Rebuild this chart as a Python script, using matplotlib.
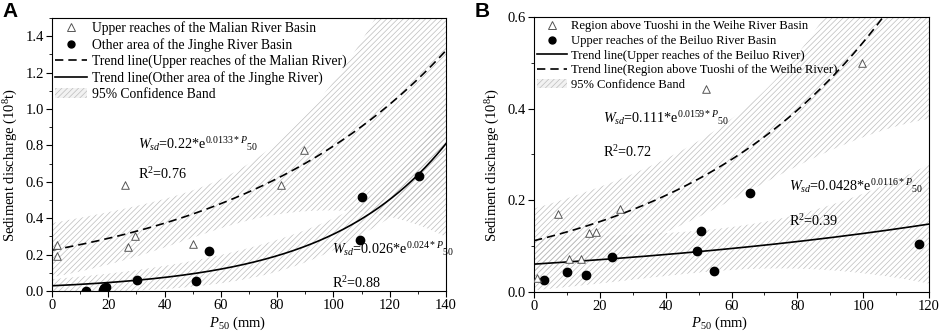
import numpy as np
import matplotlib.pyplot as plt
from matplotlib.lines import Line2D
from matplotlib.patches import Patch

plt.rcParams['font.family'] = ['Liberation Serif', 'DejaVu Serif']
plt.rcParams['mathtext.fontset'] = 'custom'
plt.rcParams['mathtext.rm'] = 'Liberation Serif'
plt.rcParams['mathtext.it'] = 'Liberation Serif:italic'
plt.rcParams['hatch.linewidth'] = 0.5

# Panel A: Jinghe River
malian_p50 = [1.8, 1.8, 26.0, 27.0, 29.6, 50.0, 81.4, 89.7]
malian_wsd = [0.25, 0.194, 0.58, 0.242, 0.302, 0.256, 0.58, 0.775]
jinghe_p50 = [12.0, 18.0, 18.5, 19.2, 30.2, 51.1, 55.9, 109.6, 110.1, 130.3]
jinghe_wsd = [0.0, 0.005, 0.015, 0.022, 0.063, 0.055, 0.22, 0.278, 0.518, 0.634]

# Panel B: Weihe / Beiluo River
tuoshi_p50 = [0.8, 7.4, 10.6, 14.4, 16.7, 18.7, 26.1, 52.3, 99.6]
tuoshi_wsd = [0.029, 0.169, 0.071, 0.072, 0.129, 0.130, 0.180, 0.443, 0.500]
beiluo_p50 = [3.1, 10.0, 15.8, 23.6, 49.6, 50.7, 54.8, 65.7, 116.9]
beiluo_wsd = [0.026, 0.043, 0.036, 0.075, 0.089, 0.133, 0.045, 0.215, 0.104]

# printed equations (a, b, R2)
eq_malian = (0.22, 0.0133, 0.76)
eq_jinghe = (0.026, 0.024, 0.88)
eq_tuoshi = (0.111, 0.0159, 0.72)
eq_beiluo = (0.0428, 0.0116, 0.39)

HATCH_COLOR = '#bdbdbd'
FS_TICK = 10.5
FS_EQ = 10.2


def fit_exp(x, y, a0, b0):
    x = np.asarray(x, float)
    y = np.asarray(y, float)
    a, b = a0, b0
    for _ in range(200):
        e = np.exp(b * x)
        r = y - a * e
        J = np.column_stack([e, a * x * e])
        step = np.linalg.lstsq(J, r, rcond=None)[0]
        a += 0.5 * step[0]
        b += 0.5 * step[1]
    e = np.exp(b * x)
    J = np.column_stack([e, a * x * e])
    s2 = np.sum((y - a * e) ** 2) / (len(x) - 2)
    cov = s2 * np.linalg.inv(J.T @ J)
    return a, b, cov


def conf_band(xg, a, b, cov, t):
    e = np.exp(b * xg)
    G = np.column_stack([e, a * xg * e])
    se = np.sqrt(np.einsum('ij,jk,ik->i', G, cov, G))
    f = a * e
    return f, f - t * se, f + t * se


def eq_text(a, b):
    return (r'$W_{sd}$=' + f'{a}' + r'*e$^{\mathregular{' + f'{b}' + r'*}P}$$_{50}$')


def style_axes(ax, xmax, ymax, xmajor, xminor, ymajor, yminor):
    ax.set_xlim(0, xmax)
    ax.set_ylim(0, ymax)
    ax.set_xticks(np.arange(0, xmax + 0.01, xmajor))
    ax.set_xticks(np.arange(0, xmax + 0.01, xminor), minor=True)
    ax.set_yticks(np.arange(0, ymax - 0.05 + 1e-9, ymajor))
    ax.set_yticks(np.arange(0, ymax + 1e-9, yminor), minor=True)
    ax.tick_params(which='both', direction='out', top=False, right=False,
                   labelsize=FS_TICK, pad=2)
    ax.tick_params(which='major', length=4)
    ax.tick_params(which='minor', length=2.5)
    ax.set_xlabel(r'$P_{50}$ (mm)', fontsize=FS_TICK)
    ax.set_ylabel(r'Sediment discharge (10$^8$t)', fontsize=FS_TICK)
    ax.xaxis.set_label_coords(0.47, -0.085)
    ax.yaxis.set_label_coords(-0.082, 0.46)


def draw_panel(ax, xmax, sets, legend_order, leg_fs):
    xg = np.linspace(0, xmax, 300)
    handles = {}
    for name, xs, ys, eq, t, ls, marker in sets:
        a, b, cov = fit_exp(xs, ys, eq[0], eq[1])
        f, lo, hi = conf_band(xg, a, b, cov, t)
        ax.fill_between(xg, lo, hi, facecolor='none', edgecolor=HATCH_COLOR,
                        hatch='//////', linewidth=0, zorder=1)
        ax.plot(xg, f, color='black', ls=ls, lw=1.2, zorder=3)
        if marker == '^':
            ax.scatter(xs, ys, marker='^', s=30, facecolors='white',
                       edgecolors='#555555', linewidths=0.7, zorder=4)
            handles['pts_' + name] = Line2D([], [], marker='^', ls='none', ms=5.5,
                                            mfc='white', mec='#555555', mew=0.7)
        else:
            ax.scatter(xs, ys, marker='o', s=36, color='black', zorder=4)
            handles['pts_' + name] = Line2D([], [], marker='o', ls='none', ms=5,
                                            color='black')
        handles['line_' + name] = Line2D([], [], color='black', ls=ls, lw=1.2)
    handles['band'] = Patch(facecolor='#f2f2f2', edgecolor=HATCH_COLOR, hatch='//////', lw=0)
    hs = [handles[k] for k, _ in legend_order]
    labels = [lab for _, lab in legend_order]
    ax.legend(hs, labels, loc='upper left', bbox_to_anchor=(0.0, 1.0), frameon=False,
              fontsize=leg_fs, handlelength=2.35, handletextpad=0.3, labelspacing=0.2,
              borderaxespad=0.1, borderpad=0.15)


fig = plt.figure(figsize=(9.41, 3.32), dpi=100)
axA = fig.add_axes([0.0553, 0.1235, 0.4187, 0.8223])
axB = fig.add_axes([0.5675, 0.1214, 0.4198, 0.8265])

draw_panel(axA, 140, [
    ('malian', malian_p50, malian_wsd, eq_malian, 2.447, (0, (5, 3)), '^'),
    ('jinghe', jinghe_p50, jinghe_wsd, eq_jinghe, 2.306, '-', 'o'),
], [
    ('pts_malian', 'Upper reaches of the Malian River Basin'),
    ('pts_jinghe', 'Other area of the Jinghe River Basin'),
    ('line_malian', 'Trend line(Upper reaches of the Malian River)'),
    ('line_jinghe', 'Trend line(Other area of the Jinghe River)'),
    ('band', '95% Confidence Band'),
], 9.8)
style_axes(axA, 140, 1.5, 20, 10, 0.2, 0.1)
axA.text(30.5, 0.81, eq_text(*eq_malian[:2]), fontsize=FS_EQ, va='center')
axA.text(30.5, 0.64, r'R$^2$=' + f'{eq_malian[2]}', fontsize=FS_EQ, va='center')
axA.text(99.5, 0.23, eq_text(*eq_jinghe[:2]), fontsize=FS_EQ, va='center')
axA.text(99.5, 0.045, r'R$^2$=' + f'{eq_jinghe[2]}', fontsize=FS_EQ, va='center')

draw_panel(axB, 120, [
    ('beiluo', beiluo_p50, beiluo_wsd, eq_beiluo, 2.365, '-', 'o'),
    ('tuoshi', tuoshi_p50, tuoshi_wsd, eq_tuoshi, 2.365, (0, (5, 3)), '^'),
], [
    ('pts_tuoshi', 'Region above Tuoshi in the Weihe River Basin'),
    ('pts_beiluo', 'Upper reaches of the Beiluo River Basin'),
    ('line_beiluo', 'Trend line(Upper reaches of the Beiluo River)'),
    ('line_tuoshi', 'Trend line(Region above Tuoshi of the Weihe River)'),
    ('band', '95% Confidence Band'),
], 9.1)
style_axes(axB, 120, 0.6, 20, 10, 0.2, 0.1)
axB.set_yticks(np.arange(0, 0.61, 0.2))
axB.text(21.0, 0.38, eq_text(*eq_tuoshi[:2]), fontsize=FS_EQ, va='center')
axB.text(21.0, 0.306, r'R$^2$=' + f'{eq_tuoshi[2]}', fontsize=FS_EQ, va='center')
axB.text(77.5, 0.231, eq_text(*eq_beiluo[:2]), fontsize=FS_EQ, va='center')
axB.text(77.5, 0.155, r'R$^2$=' + f'{eq_beiluo[2]}', fontsize=FS_EQ, va='center')

fig.text(0.003, 0.995, 'A', fontsize=15, fontweight='bold', family='Liberation Sans', va='top')
fig.text(0.504, 0.995, 'B', fontsize=15, fontweight='bold', family='Liberation Sans', va='top')

fig.savefig('out.png', dpi=100)
